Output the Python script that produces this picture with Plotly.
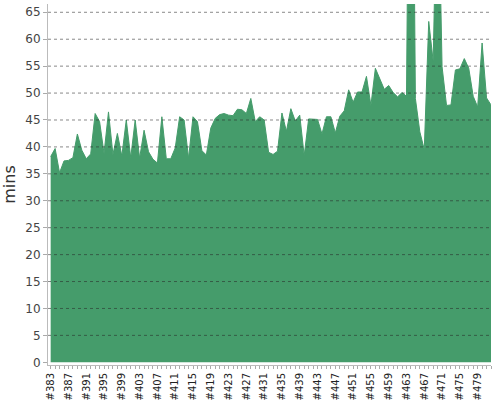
import plotly.graph_objects as go

builds = ["#%d" % n for n in range(383, 483)]
mins = [
    38.2, 39.7, 35.2, 37.4, 37.5, 38.0, 42.4, 39.4, 37.8, 38.7,
    46.2, 44.7, 38.8, 46.5, 38.6, 42.5, 38.3, 45.0, 38.0, 45.0,
    37.9, 43.1, 39.1, 37.7, 37.0, 45.6, 37.8, 37.8, 39.8, 45.6,
    45.0, 37.9, 45.6, 44.7, 39.3, 38.5, 43.5, 45.3, 46.0, 46.2,
    45.9, 45.8, 47.0, 46.9, 46.2, 49.0, 44.7, 45.6, 45.0, 39.0,
    38.6, 39.2, 46.3, 42.9, 47.1, 44.8, 45.9, 38.4, 45.2, 45.2,
    45.1, 42.4, 45.6, 45.6, 42.6, 45.7, 46.7, 50.6, 48.3, 50.2,
    50.2, 53.1, 47.7, 54.6, 52.8, 50.7, 51.4, 50.1, 49.3, 50.1,
    49.4, 150.0, 49.0, 42.8, 39.5, 63.3, 55.9, 97.0, 54.9, 47.7,
    47.8, 54.3, 54.5, 56.4, 54.6, 49.4, 47.4, 59.3, 49.1, 47.8,
]
y_ticks = list(range(0, 70, 5))

# label every 4th build, tick every build
tick_text = [b if i % 4 == 0 else "" for i, b in enumerate(builds)]

green = "#459c6b"

fig = go.Figure(
    go.Scatter(
        x=builds,
        y=mins,
        mode="lines",
        fill="tozeroy",
        fillcolor=green,
        line=dict(color=green, width=1),
        hoverinfo="x+y",
    )
)

# dashed grid drawn on top of the area
for v in y_ticks[1:]:
    fig.add_hline(
        y=v, line=dict(color="rgba(40,40,40,0.55)", width=1, dash="3px,3px"),
        layer="above",
    )

fig.update_layout(
    width=500,
    height=400,
    margin=dict(l=48, r=9, t=4, b=35),
    plot_bgcolor="white",
    paper_bgcolor="white",
    showlegend=False,
    font=dict(family="DejaVu Sans", color="#444"),
)
fig.update_xaxes(
    type="category",
    range=[-0.6, 99],
    tickmode="array",
    tickvals=builds,
    ticktext=tick_text,
    tickangle=-90,
    tickfont=dict(size=10, color="#222"),
    ticks="outside",
    ticklen=3,
    tickcolor="#aaa",
    showline=True,
    linecolor="#bbb",
    showgrid=False,
    zeroline=False,
    automargin=False,
)
fig.update_yaxes(
    range=[-0.5, 66.54],
    tickvals=y_ticks,
    tickfont=dict(size=12, color="#444"),
    ticks="outside",
    ticklen=4,
    tickcolor="#aaa",
    showline=True,
    linecolor="#bbb",
    showgrid=False,
    zeroline=False,
    automargin=False,
    title=dict(text="mins", font=dict(size=16, color="#333"), standoff=8),
)

# page body has a default 8px margin, drop it so the chart sits at 0,0
fig.write_html(
    "out.html",
    config={"displayModeBar": False},
    post_script="document.body.style.margin='0';",
)
